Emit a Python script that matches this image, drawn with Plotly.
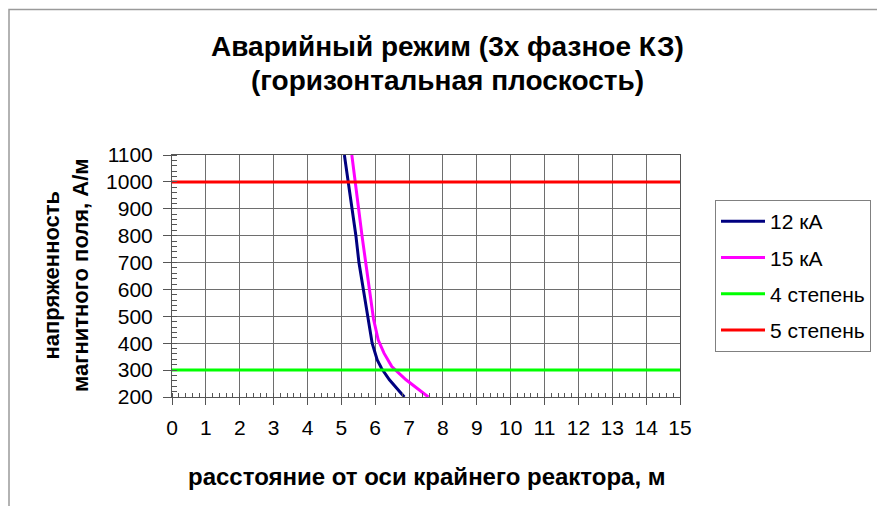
import plotly.graph_objects as go

# distance from the outer reactor axis, m / magnetic field strength, A/m
x_12ka = [5.09, 5.21, 5.33, 5.43, 5.52, 5.65, 5.78, 5.91, 6.06, 6.19, 6.42, 6.86]
h_12ka = [1100, 1000, 900, 800, 700, 600, 500, 400, 338, 306, 264, 200]

x_15ka = [5.31, 5.40, 5.51, 5.61, 5.71, 5.83, 5.95, 6.09, 6.26, 6.49, 6.91, 7.57]
h_15ka = [1100, 1000, 900, 800, 700, 600, 490, 412, 363, 313, 264, 200]

x_levels = [0, 3, 6, 9, 12, 15]
h_level4 = [300, 300, 300, 300, 300, 300]
h_level5 = [1000, 1000, 1000, 1000, 1000, 1000]

names = ["12 кА", "15 кА", "4 степень", "5 степень"]
colors = ["#000080", "#FF00FF", "#00FF00", "#FF0000"]

x_ticks = list(range(0, 16))
y_ticks = list(range(200, 1101, 100))

FONT = "Arial, Liberation Sans, sans-serif"

fig = go.Figure()
series = [(x_12ka, h_12ka), (x_15ka, h_15ka), (x_levels, h_level4), (x_levels, h_level5)]
for i, ((xs, ys), name, col) in enumerate(zip(series, names, colors)):
    fig.add_trace(go.Scatter(
        x=xs, y=ys, mode="lines", name=name, legendgroup=f"g{i}",
        line=dict(color=col, width=3), cliponaxis=True,
    ))

axis_common = dict(
    showgrid=True, gridcolor="#6e6e6e", gridwidth=1,
    showline=True, linecolor="#555555", linewidth=1, mirror=True,
    ticks="outside", tickcolor="#555555", zeroline=False,
    tickfont=dict(family=FONT, size=21, color="#000000"),
)

fig.update_xaxes(
    range=[0, 15], tickvals=x_ticks, ticklen=7, ticklabelstandoff=5,
    minor=dict(dtick=0.2, ticks="inside", ticklen=4, tickcolor="#555555", showgrid=False),
    **axis_common,
)
fig.update_yaxes(
    range=[200, 1100], tickvals=y_ticks, ticklen=8, ticklabelstandoff=6,
    minor=dict(dtick=20, ticks="inside", ticklen=5, tickcolor="#555555", showgrid=False),
    **axis_common,
)

# chart title, two centred lines
title_lines = [("Аварийный режим (3х фазное КЗ)", 47), ("(горизонтальная плоскость)", 80)]
ann = []
for text, ypx in title_lines:
    ann.append(dict(
        text=f"<b>{text}</b>", xref="paper", yref="paper", x=0.5433,
        y=(397 - ypx) / 242, xanchor="center", yanchor="middle", showarrow=False,
        font=dict(family=FONT, size=28, color="#000000"),
    ))
ann.append(dict(
    text="<b>расстояние от оси крайнего реактора, м</b>", xref="paper", yref="paper",
    x=0.502, y=(397 - 476) / 242, xanchor="center", yanchor="middle", showarrow=False,
    font=dict(family=FONT, size=24, color="#000000"),
))
ann.append(dict(
    text="<b>напряженность</b><br><b>магнитного поля, А/м</b>", xref="paper", yref="paper",
    x=(66 - 172) / 508, y=(397 - 275) / 242, xanchor="center", yanchor="middle",
    textangle=-90, showarrow=False,
    font=dict(family=FONT, size=22, color="#000000"),
))

fig.update_layout(
    width=877, height=506,
    margin=dict(l=172, r=197, t=155, b=109, autoexpand=False),
    paper_bgcolor="#FFFFFF", plot_bgcolor="#FFFFFF",
    font=dict(family=FONT, color="#000000"),
    annotations=ann,
    showlegend=True,
    legend=dict(
        x=(715 - 172) / 508, y=(397 - 200) / 242, xanchor="left", yanchor="top",
        bgcolor="#FFFFFF", bordercolor="#808080", borderwidth=1,
        font=dict(family=FONT, size=21, color="#000000"),
        tracegroupgap=6, itemwidth=44,
    ),
    shapes=[dict(
        type="rect", xref="paper", yref="paper",
        x0=(9 - 172) / 508, x1=(887 - 172) / 508,
        y0=(397 - 520) / 242, y1=(397 - 9.5) / 242,
        line=dict(color="#9a9a9a", width=1.5), fillcolor="rgba(0,0,0,0)", layer="below",
    )],
)

fig.write_html("out.html")
